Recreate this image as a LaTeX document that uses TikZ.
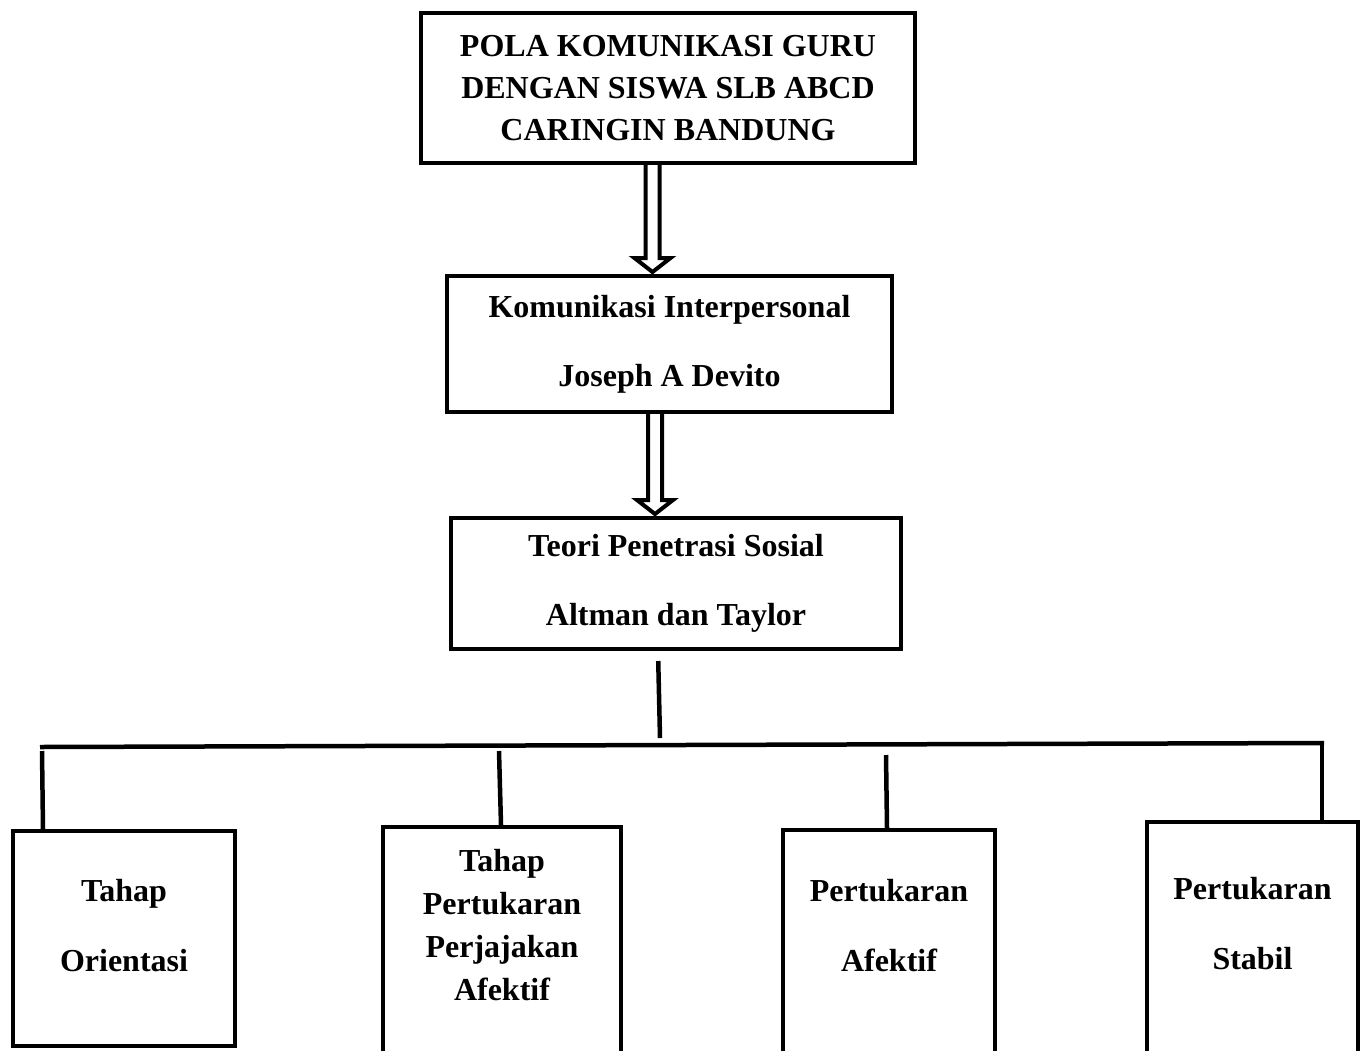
\documentclass[tikz,border=0pt]{standalone}
\usepackage{fontspec}
\setmainfont{Liberation Serif}
\usetikzlibrary{positioning,calc}
\tikzset{
box/.style={
draw,
line width=4pt,
inner sep=0pt,
align=center,
font=\bfseries\fontsize{32}{42}\selectfont
},
tag/.style={
align=center,
inner sep=0pt,
font=\bfseries\fontsize{32}{70}\selectfont
},
link/.style={
line width=4.5pt
},
hollow/.style={
line width=4pt,
miter limit=10
}
}

\begin{document}
\begin{tikzpicture}[x=1pt,y=-1pt]
\clip(0,0)rectangle(1365,1050);

\node[box,minimum width=494pt,minimum height=150pt](pola) at (668,88){POLA KOMUNIKASI GURU\\DENGAN SISWA SLB ABCD\\CARINGIN BANDUNG};
\node[box,minimum width=445pt,minimum height=136pt,font=\bfseries\fontsize{32}{69}\selectfont](kom) at (669.5,344){Komunikasi Interpersonal\\Joseph A Devito};
\node[box,minimum width=450pt,minimum height=131pt,font=\bfseries\fontsize{32}{69}\selectfont](teori) at (676,583.5){Teori Penetrasi Sosial\\Altman dan Taylor};

% tahap boxes (cut at the page bottom)
\node[box,minimum width=222pt,minimum height=215pt](orient) at (124,938.5){};
\node[box,minimum width=238pt,minimum height=296pt](jajak) at (502,975){};
\node[box,minimum width=212pt,minimum height=296pt](afektif) at (889,978){};
\node[box,minimum width=211pt,minimum height=296pt](stabil) at (1252.5,970){};

\node[tag](orientText) at (124,926){Tahap\\Orientasi};
\node[tag,font=\bfseries\fontsize{32}{43}\selectfont](jajakText) at (502,925){Tahap\\Pertukaran\\Perjajakan\\Afektif};
\node[tag](afektifText) at (889,926){Pertukaran\\Afektif};
\node[tag](stabilText) at (1252.5,924){Pertukaran\\Stabil};

% hollow arrows
\foreach \a/\b/\x in {pola/kom/652.5,kom/teori/655}{
\path(\x,0 |- \a.south)coordinate(s)(\x,0 |- \b.north)coordinate(e);
\draw[hollow]([xshift=-7pt]s)--([xshift=-7pt,yshift=16pt]e)--([xshift=-18pt,yshift=16pt]e)
--([yshift=2pt]e)--([xshift=18pt,yshift=16pt]e)--([xshift=7pt,yshift=16pt]e)--([xshift=7pt]s);
}

% branching lines
\coordinate(busL) at (40,747);
\coordinate(busR) at (1324,743);
\coordinate(stem) at (660,738);
\draw[link,shorten <=10pt](658,0 |- teori.south)--(stem);
\draw[link](busL)--(busR);
\draw[link](42,751)--(43,0 |- orient.north);
\draw[link](499,751)--(501,0 |- jajak.north);
\draw[link](886,755)--(887,0 |- afektif.north);
\draw[link](1322,741)--(1322,0 |- stabil.north);
\end{tikzpicture}
\end{document}
